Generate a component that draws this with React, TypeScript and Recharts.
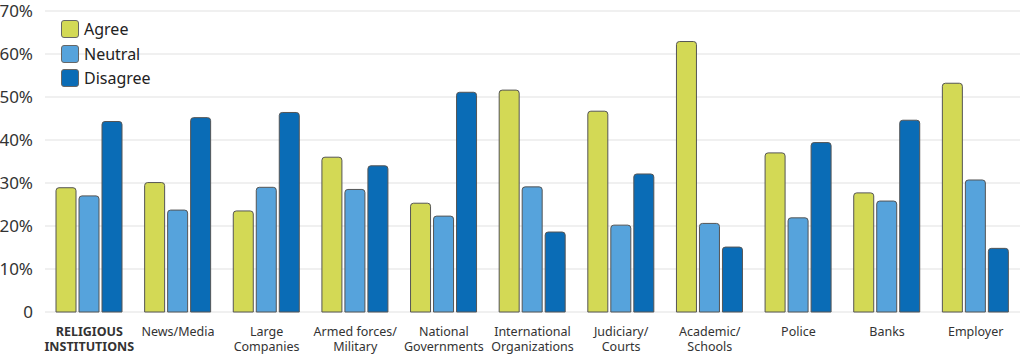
import { Bar, BarChart, CartesianGrid, XAxis, YAxis } from "recharts";

const categories = [
  "RELIGIOUS\nINSTITUTIONS",
  "News/Media",
  "Large\nCompanies",
  "Armed forces/\nMilitary",
  "National\nGovernments",
  "International\nOrganizations",
  "Judiciary/\nCourts",
  "Academic/\nSchools",
  "Police",
  "Banks",
  "Employer",
];
const agree = [28.9, 30.1, 23.5, 36.0, 25.3, 51.6, 46.7, 62.9, 37.0, 27.7, 53.2];
const neutral = [27.0, 23.7, 29.0, 28.5, 22.3, 29.1, 20.2, 20.6, 21.9, 25.8, 30.7];
const disagree = [44.3, 45.2, 46.4, 34.0, 51.1, 18.6, 32.1, 15.1, 39.4, 44.6, 14.8];
const yTicks = [0, 10, 20, 30, 40, 50, 60, 70];

const series = [
  { key: "agree", name: "Agree", color: "#d3d955" },
  { key: "neutral", name: "Neutral", color: "#56a3dc" },
  { key: "disagree", name: "Disagree", color: "#0a6cb6" },
];

const data = categories.map((c, i) => ({
  cat: c,
  agree: agree[i],
  neutral: neutral[i],
  disagree: disagree[i],
}));

const font = "'Noto Sans', 'Open Sans', sans-serif";

function XTick({ x, y, payload, index }: any) {
  const lines = String(payload.value).split("\n");
  return (
    <text
      x={x}
      y={y + 16}
      textAnchor="middle"
      fontSize={12.5}
      fill="#333"
      fontFamily={font}
      fontWeight={index === 0 ? 700 : 400}
    >
      {lines.map((l, i) => (
        <tspan key={i} x={x} dy={i === 0 ? 0 : 15}>
          {l}
        </tspan>
      ))}
    </text>
  );
}

function LegendBox() {
  return (
    <div
      style={{
        position: "absolute",
        left: 61,
        top: 17,
        fontFamily: font,
        fontSize: 16,
        color: "#222",
      }}
    >
      {series.map((s) => (
        <div key={s.key} style={{ display: "flex", alignItems: "center", height: 24.5 }}>
          <span
            style={{
              display: "inline-block",
              width: 18,
              height: 18,
              background: s.color,
              border: "1px solid #666",
              borderRadius: 3,
              marginRight: 5,
              boxSizing: "border-box",
            }}
          />
          {s.name}
        </div>
      ))}
    </div>
  );
}

export default function App() {
  return (
    <div style={{ position: "relative", width: 1024, height: 356, background: "#fff" }}>
      <style>{`body{margin:0}`}</style>
      <BarChart
        width={1024}
        height={356}
        data={data}
        margin={{ top: 11, right: 4, bottom: 0, left: 0 }}
        barGap={3}
        barSize={20}
      >
        <CartesianGrid vertical={false} stroke="#ebebeb" strokeWidth={1.5} />
        <XAxis
          dataKey="cat"
          interval={0}
          tickLine={false}
          axisLine={false}
          height={44}
          tick={<XTick />}
        />
        <YAxis
          domain={[0, 70]}
          ticks={yTicks}
          width={45}
          tickLine={false}
          axisLine={false}
          tickFormatter={(v: number) => (v === 0 ? "0" : `${v}%`)}
          tick={{ fontSize: 17, fill: "#333", fontFamily: font }}
          tickMargin={6}
        />
        {series.map((s) => (
          <Bar
            key={s.key}
            dataKey={s.key}
            name={s.name}
            fill={s.color}
            stroke="#555"
            strokeWidth={1}
            radius={[3, 3, 0, 0]}
            isAnimationActive={false}
          />
        ))}
      </BarChart>
      <LegendBox />
    </div>
  );
}
